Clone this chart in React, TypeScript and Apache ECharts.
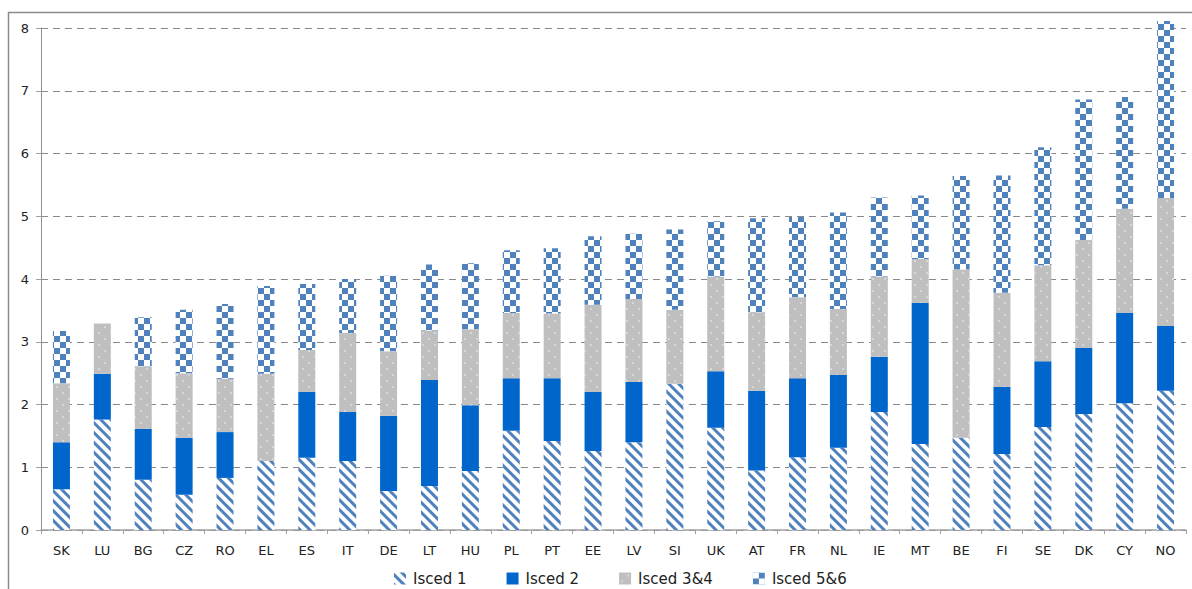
import React, { useEffect, useRef } from "react";
import * as echarts from "echarts";

const categories = ["SK","LU","BG","CZ","RO","EL","ES","IT","DE","LT","HU","PL","PT","EE","LV","SI","UK","AT","FR","NL","IE","MT","BE","FI","SE","DK","CY","NO"];
const isced1 = [0.65,1.76,0.80,0.56,0.83,1.10,1.15,1.10,0.62,0.70,0.94,1.58,1.42,1.26,1.40,2.33,1.63,0.95,1.16,1.31,1.88,1.37,1.47,1.21,1.64,1.85,2.02,2.22];
const isced2 = [0.75,0.73,0.81,0.91,0.73,0,1.05,0.78,1.20,1.69,1.05,0.84,1.00,0.94,0.96,0,0.90,1.27,1.26,1.16,0.88,2.25,0,1.07,1.05,1.05,1.44,1.03];
const isced34 = [0.94,0.80,1.00,1.03,0.85,1.39,0.67,1.26,1.03,0.79,1.21,1.04,1.03,1.39,1.32,1.18,1.51,1.25,1.29,1.05,1.28,0.70,2.68,1.50,1.53,1.72,1.66,2.04];
const isced56 = [0.83,0,0.78,1.01,1.19,1.40,1.05,0.86,1.20,1.05,1.05,1.00,1.04,1.09,1.04,1.28,0.88,1.50,1.28,1.54,1.26,1.01,1.49,1.87,1.88,2.24,1.78,2.82];
const seriesNames = ["Isced 1","Isced 2","Isced 3&4","Isced 5&6"];
const yTicks = [0,1,2,3,4,5,6,7,8];

const FONT = "DejaVu Sans";

export default function App() {
  const ref = useRef<HTMLDivElement>(null);
  useEffect(() => {
    if (!ref.current) return;
    const chart = echarts.init(ref.current, undefined, { renderer: "svg" });
    const base = {
      type: "bar",
      stack: "total",
      barWidth: 17,
      clip: false,
    };
    chart.setOption({
      animation: false,
      backgroundColor: "#ffffff",
      grid: { left: 41, right: 6, top: 28, bottom: 59, containLabel: false },
      legend: {
        top: 566,
        left: 389,
        itemWidth: 12,
        itemHeight: 12,
        itemGap: 40,
        icon: "rect",
        textStyle: { fontFamily: FONT, fontSize: 15, color: "#222", padding: [0, 0, 0, 2] },
        data: seriesNames,
      },
      graphic: [
        {
          type: "rect",
          shape: { x: 8.5, y: 12.5, width: 1200, height: 600 },
          style: { fill: "none", stroke: "#8c8c8c", lineWidth: 1.5 },
          silent: true,
        },
      ],
      xAxis: {
        type: "category",
        data: categories,
        axisLine: { lineStyle: { color: "#a0a0a0", width: 1.5 } },
        axisTick: { show: true, length: 4, lineStyle: { color: "#a0a0a0" } },
        axisLabel: { fontFamily: FONT, fontSize: 13, color: "#222", margin: 14 },
      },
      yAxis: {
        type: "value",
        min: yTicks[0],
        max: yTicks[yTicks.length - 1],
        interval: 1,
        axisLine: { show: true, lineStyle: { color: "#909090" } },
        axisTick: { show: true, length: 5, lineStyle: { color: "#a0a0a0" } },
        axisLabel: { fontFamily: FONT, fontSize: 13, color: "#222", margin: 12 },
        splitLine: { lineStyle: { color: "#8a8a8a", type: [7, 5], width: 1 } },
      },
      series: [
        {
          ...base,
          name: seriesNames[0],
          data: isced1,
          itemStyle: {
            color: "#ffffff",
            decal: {
              symbol: "rect",
              symbolSize: 1,
              color: "#4F81BD",
              dashArrayX: [1, 0],
              dashArrayY: [3, 4],
              rotation: Math.PI / 4,
            },
          },
        },
        {
          ...base,
          name: seriesNames[1],
          data: isced2,
          itemStyle: { color: "#0066CC" },
        },
        {
          ...base,
          name: seriesNames[2],
          data: isced34,
          itemStyle: {
            color: "#BFBFBF",
            decal: {
              symbol: "circle",
              symbolSize: 0.25,
              color: "#eeeeee",
              dashArrayX: [[6, 6], [0, 6, 6, 0]],
              dashArrayY: [6, 0],
            },
          },
        },
        {
          ...base,
          name: seriesNames[3],
          data: isced56,
          itemStyle: {
            color: "#ffffff",
            decal: {
              symbol: "rect",
              symbolSize: 1,
              color: "#4F81BD",
              dashArrayX: [[6, 6], [0, 6, 6, 0]],
              dashArrayY: [6, 0],
            },
          },
        },
      ],
    });
    return () => chart.dispose();
  }, []);
  return (
    <div
      ref={ref}
      style={{ position: "fixed", left: 0, top: 0, width: 1192, height: 589 }}
    />
  );
}
